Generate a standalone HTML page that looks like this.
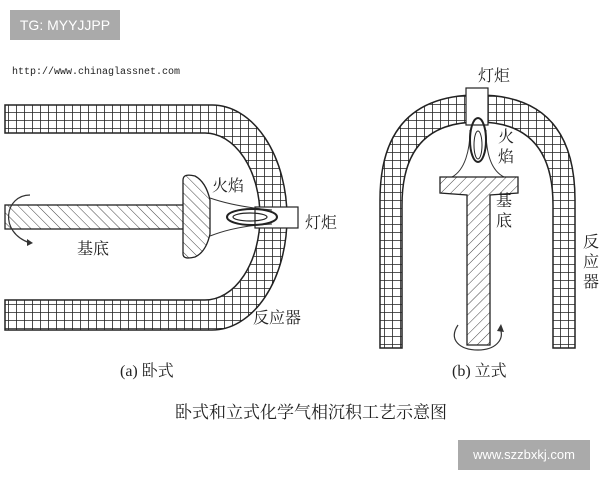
<!DOCTYPE html>
<html><head><meta charset="utf-8"><style>
body{margin:0;width:600px;height:480px;background:#fff;overflow:hidden;position:relative;font-family:"Liberation Serif","Noto Serif CJK SC",serif}
.t{position:absolute;color:#222}
</style></head><body>
<svg width="600" height="480" style="position:absolute;left:0;top:0">
<defs>
<pattern id="g" width="8" height="8" patternUnits="userSpaceOnUse"><rect width="8" height="8" fill="#fff"/><path d="M0 0H8M0 0V8" stroke="#222" stroke-width="1.6"/></pattern>
<pattern id="h" width="7" height="7" patternUnits="userSpaceOnUse" patternTransform="rotate(45)"><rect width="7" height="7" fill="#fff"/><path d="M0 0V7" stroke="#444" stroke-width="1"/></pattern>
<pattern id="h2" width="7" height="7" patternUnits="userSpaceOnUse" patternTransform="rotate(-45)"><rect width="7" height="7" fill="#fff"/><path d="M0 0V7" stroke="#444" stroke-width="1"/></pattern>
</defs>
<!-- left reactor -->
<path d="M5,105 L212,105 A75,112.5 0 0 1 212,330 L5,330 L5,300 L205,300 A55,83.5 0 0 0 205,133 L5,133 Z" fill="url(#g)" stroke="#222" stroke-width="1.5"/>
<rect x="255" y="207" width="43" height="21" fill="#fff" stroke="#222" stroke-width="1.2"/>
<rect x="5" y="205" width="180" height="24" fill="url(#h2)" stroke="#222" stroke-width="1.3"/>
<path d="M183,180 Q183,173 195,176 Q206,182 210,200 L210,234 Q206,252 195,257 Q183,260 183,254 Z" fill="url(#h2)" stroke="#222" stroke-width="1.3"/>
<path d="M210,198 C230,205 250,208 272,210 M210,236 C230,228 250,225 272,224" stroke="#333" fill="none"/>
<ellipse cx="252" cy="217" rx="25" ry="8" fill="none" stroke="#222" stroke-width="2"/>
<ellipse cx="250" cy="217" rx="17" ry="4" fill="none" stroke="#222" stroke-width="1.2"/>
<path d="M30,195 C5,195 -2,232 30,243" fill="none" stroke="#333" stroke-width="1.2"/>
<path d="M27,239 L33,243 L27,246" fill="#333"/>
<!-- right reactor -->
<path d="M380,348 L380,200 Q380,95 478,95 Q575,95 575,200 L575,348 L553,348 L553,205 Q553,122 478,122 Q402,122 402,205 L402,348 Z" fill="url(#g)" stroke="#222" stroke-width="1.5"/>
<rect x="466" y="88" width="22" height="37" fill="#fff" stroke="#222" stroke-width="1.2"/>
<path d="M452,177 C465,170 470,150 470,130 M504,177 C490,170 486,150 486,130" stroke="#333" fill="none"/>
<ellipse cx="478" cy="140" rx="8" ry="22" fill="none" stroke="#222" stroke-width="2"/>
<ellipse cx="478" cy="145" rx="4" ry="14" fill="none" stroke="#222" stroke-width="1"/>
<path d="M440,177 L518,177 L518,193 L490,195 L490,345 L467,345 L467,195 L440,193 Z" fill="url(#h)" stroke="#222" stroke-width="1.3"/>
<path d="M458,325 C448,340 460,350 478,350 C495,350 505,340 500,328" fill="none" stroke="#333" stroke-width="1.2"/>
<path d="M497,331 L501,324 L504,332" fill="#333"/>
</svg>
<div style="position:absolute;left:10px;top:10px;width:110px;height:30px;background:#aaa;color:#fff;font:14px 'Liberation Sans',sans-serif;line-height:30px;text-align:center">TG: MYYJJPP</div>
<div class="t" style="left:12px;top:67px;font:10px 'Liberation Mono',monospace">http://www.chinaglassnet.com</div>
<div class="t" style="left:212px;top:173px;font-size:16px">火焰</div>
<div class="t" style="left:305px;top:210px;font-size:16px">灯炬</div>
<div class="t" style="left:77px;top:236px;font-size:16px">基底</div>
<div class="t" style="left:253px;top:305px;font-size:16px">反应器</div>
<div class="t" style="left:478px;top:63px;font-size:16px">灯炬</div>
<div class="t" style="left:498px;top:128px;font-size:16px;width:17px;line-height:20px">火焰</div>
<div class="t" style="left:496px;top:192px;font-size:16px;width:17px;line-height:20px">基底</div>
<div class="t" style="left:583px;top:233px;font-size:16px;width:17px;line-height:20px">反应器</div>
<div class="t" style="left:120px;top:358px;font-size:16px">(a) 卧式</div>
<div class="t" style="left:452px;top:358px;font-size:16px">(b) 立式</div>
<div class="t" style="left:175px;top:398px;font-size:17px">卧式和立式化学气相沉积工艺示意图</div>
<div style="position:absolute;left:458px;top:440px;width:132px;height:30px;background:#aaa;color:#fff;font:13px 'Liberation Sans',sans-serif;line-height:30px;text-align:center">www.szzbxkj.com</div>
</body></html>
